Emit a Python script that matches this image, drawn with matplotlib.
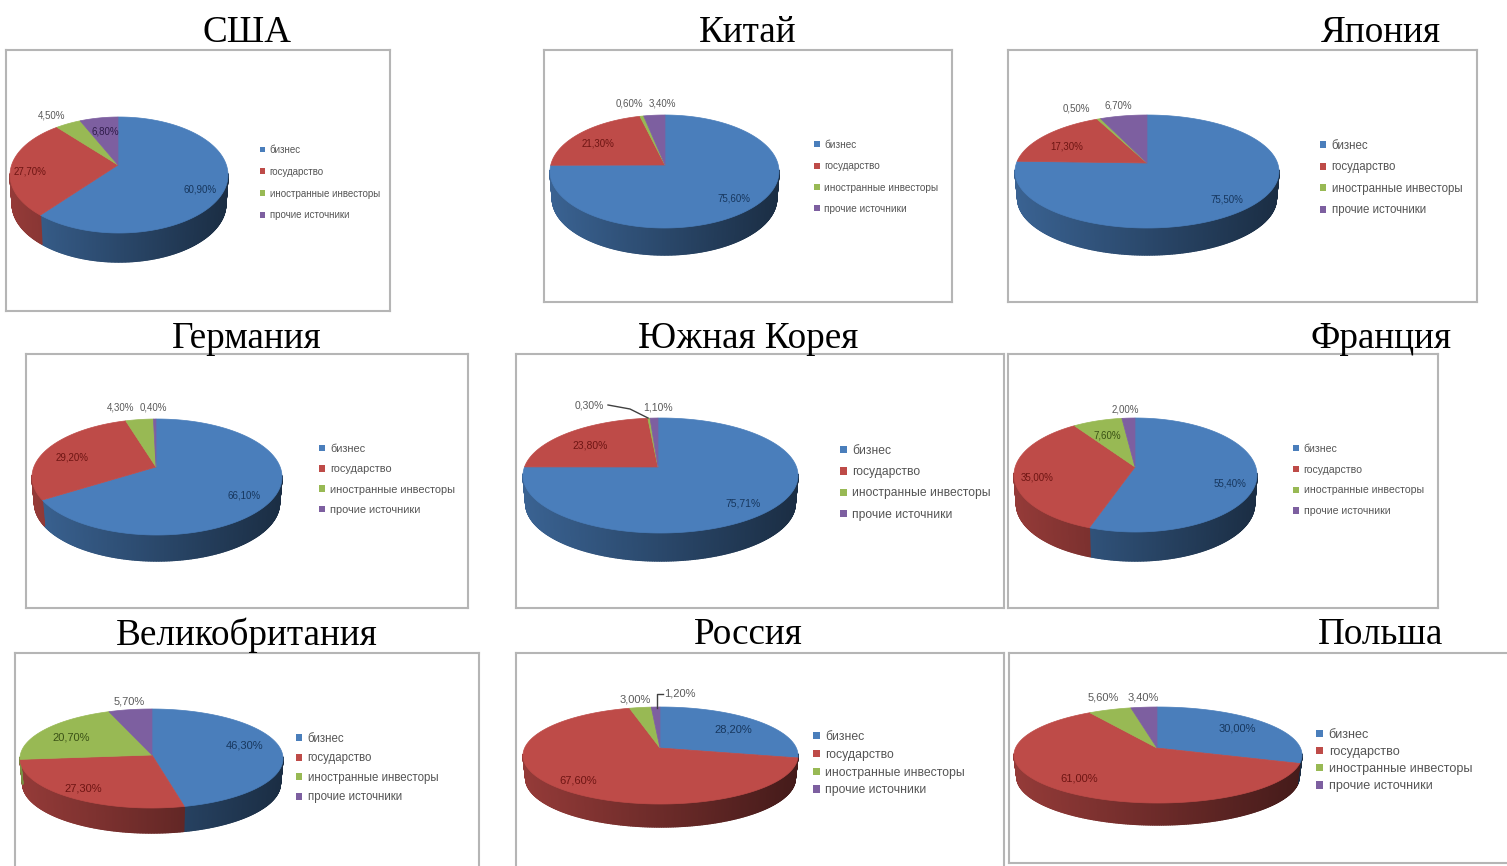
import numpy as np
import matplotlib
matplotlib.use('Agg')
import matplotlib.pyplot as plt
from matplotlib.collections import PolyCollection
from matplotlib.patches import Patch

W, H = 1507, 866

countries = ['США', 'Китай', 'Япония', 'Германия', 'Южная Корея', 'Франция',
             'Великобритания', 'Россия', 'Польша']
series = ['бизнес', 'государство', 'иностранные инвесторы', 'прочие источники']

business = [60.9, 75.6, 75.5, 66.1, 75.71, 55.4, 46.3, 28.2, 30.0]
government = [27.7, 21.3, 17.3, 29.2, 23.8, 35.0, 27.3, 67.6, 61.0]
foreign = [4.5, 0.6, 0.5, 4.3, 0.3, 7.6, 20.7, 3.0, 5.6]
other = [6.8, 3.4, 6.7, 0.4, 1.1, 2.0, 5.7, 1.2, 3.4]

colors = ['#4a7ebb', '#be4b48', '#98b954', '#7d5fa0']
text_dark = ['#17375e', '#6e1513', '#3b5216', '#2f1c4a']

# layout in picture pixels
# box, ellipse (left, right, top, face bottom, wall bottom), apex, title centre
layout = [
    dict(box=(6, 390, 50, 311), ell=(10, 228, 117, 233, 262), apex=(118, 165), title=(247, 30),
         leg=(260, 145, 21.5), fs=7.0, ls=7,
         lab=[(200, 190), (30, 171), (52, 116), (105, 131)], out=[2]),
    dict(box=(544, 952, 50, 302), ell=(550, 779, 115, 228, 255), apex=(665, 165), title=(748, 30),
         leg=(814, 140, 21.3), fs=7.2, ls=7,
         lab=[(734, 198), (598, 143), (629, 103), (662, 103)], out=[2, 3]),
    dict(box=(1008, 1477, 50, 302), ell=(1015, 1279, 115, 228, 255), apex=(1147, 163), title=(1381, 30),
         leg=(1320, 140, 21), fs=8.3, ls=7,
         lab=[(1227, 199), (1067, 146), (1076, 108), (1118, 105)], out=[2, 3]),
    dict(box=(26, 468, 354, 608), ell=(32, 282, 419, 535, 561), apex=(156, 467), title=(247, 336),
         leg=(319, 444, 21.3), fs=7.9, ls=7,
         lab=[(244, 496), (72, 457), (121, 407), (153, 407)], out=[2, 3]),
    dict(box=(516, 1004, 354, 608), ell=(523, 798, 418, 533, 561), apex=(658, 467), title=(748, 336),
         leg=(840, 445, 21.3), fs=8.7, ls=7.5,
         lab=[(743, 504), (590, 446), (589, 405), (658, 407)], out=[2, 3]),
    dict(box=(1008, 1438, 354, 608), ell=(1014, 1257, 418, 532, 561), apex=(1135, 467), title=(1381, 336),
         leg=(1293, 444, 21.3), fs=7.6, ls=7,
         lab=[(1230, 484), (1037, 478), (1107, 435), (1125, 409)], out=[3]),
    dict(box=(15, 479, 653, 880), ell=(20, 283, 709, 808, 833), apex=(152, 755), title=(247, 632),
         leg=(296, 733, 19), fs=8.3, ls=8,
         lab=[(245, 745), (83, 788), (71, 737), (129, 702)], out=[3]),
    dict(box=(516, 1004, 653, 880), ell=(523, 798, 707, 804, 827), apex=(660, 748), title=(748, 632),
         leg=(813, 731, 18), fs=8.8, ls=8,
         lab=[(733, 729), (578, 780), (635, 699), (680, 694)], out=[2, 3]),
    dict(box=(1009, 1520, 653, 863), ell=(1014, 1302, 707, 803, 825), apex=(1157, 748), title=(1381, 632),
         leg=(1316, 729, 17.7), fs=9.1, ls=8,
         lab=[(1237, 729), (1079, 779), (1103, 698), (1143, 698)], out=[2, 3]),
]

# leader lines as in the original charts (panel index, picture pixels)
leaders = {4: [(608, 405), (630, 409), (648, 418)],
           7: [(657, 708), (657, 694), (663, 694)]}


def shade(color, k):
    return tuple(np.array(matplotlib.colors.to_rgb(color)) * k)


def rim(t, lay):
    # the apex is drawn above the ellipse centre, so cast rays from it to the rim
    left, right, top, face, _ = lay['ell']
    cx, cy = (left + right) / 2, (top + face) / 2
    rx, ry = (right - left) / 2, (face - top) / 2
    px, py = (lay['apex'][0] - cx) / rx, (lay['apex'][1] - cy) / ry
    dx, dy = np.sin(t), -np.cos(t)
    b = px * dx + py * dy
    s = -b + np.sqrt(b ** 2 - (px ** 2 + py ** 2 - 1))
    return px + s * dx, py + s * dy


def draw_pie(ax, vals, lay):
    left, right, top, face, bottom = lay['ell']
    cx, cy = (left + right) / 2, (top + face) / 2
    rx, ry = (right - left) / 2, (face - top) / 2
    depth = bottom - face
    fr = np.cumsum([0] + list(vals)) / sum(vals) * 2 * np.pi

    # side wall first, only the front half of the cake shows
    quads, cols = [], []
    for i, col in enumerate(colors):
        t = np.linspace(fr[i], fr[i + 1], max(3, int((fr[i + 1] - fr[i]) * 90)))
        for a, b in zip(t[:-1], t[1:]):
            ua, va = rim(a, lay)
            ub, vb = rim(b, lay)
            if va < -0.02 and vb < -0.02:
                continue
            quads.append([(cx + rx * ua, cy + ry * va), (cx + rx * ub, cy + ry * vb),
                          (cx + rx * 0.98 * ub, cy + ry * vb + depth),
                          (cx + rx * 0.98 * ua, cy + ry * va + depth)])
            cols.append(shade(col, 0.78 - 0.42 * (ua + ub + 2) / 4))
    ax.add_collection(PolyCollection(quads, facecolors=cols, edgecolors=cols, linewidths=1.0, zorder=2))

    # top face
    for i, col in enumerate(colors):
        t = np.linspace(fr[i], fr[i + 1], max(3, int((fr[i + 1] - fr[i]) * 90)))
        u, v = rim(t, lay)
        xs = np.r_[lay['apex'][0], cx + rx * u]
        ys = np.r_[lay['apex'][1], cy + ry * v]
        ax.fill(xs, ys, color=col, lw=0.5, zorder=3)


fig = plt.figure(figsize=(W / 100, H / 100), dpi=100, facecolor='white')

for n, lay in enumerate(layout):
    x0, x1, y0, y1 = lay['box']
    ax = fig.add_axes([x0 / W, 1 - y1 / H, (x1 - x0) / W, (y1 - y0) / H])
    ax.set_xlim(x0, x1)
    ax.set_ylim(y1, y0)
    ax.set_xticks([])
    ax.set_yticks([])
    for s in ax.spines.values():
        s.set_color('#b5b5b5')
        s.set_linewidth(1.5)

    vals = [business[n], government[n], foreign[n], other[n]]
    draw_pie(ax, vals, lay)

    for i, v in enumerate(vals):
        txt = f'{v:.2f}%'.replace('.', ',')
        c = '#5a5a5a' if i in lay['out'] else text_dark[i]
        ax.text(lay['lab'][i][0], lay['lab'][i][1], txt, ha='center', va='center',
                fontsize=lay['ls'], family='Liberation Sans', color=c, zorder=5)

    if n in leaders:
        pts = np.array(leaders[n])
        ax.plot(pts[:, 0], pts[:, 1], color='#404040', lw=1, zorder=4)

    handles = [Patch(facecolor=c, edgecolor='none') for c in colors]
    spacing = (lay['leg'][2] - lay['fs'] / 0.72) / (lay['fs'] / 0.72)
    ax.legend(handles, series, loc='upper left', bbox_to_anchor=(lay['leg'][0], lay['leg'][1]),
              bbox_transform=ax.transData, frameon=False, borderpad=0, borderaxespad=0,
              handlelength=0.55, handleheight=0.55, handletextpad=0.45, labelspacing=spacing,
              labelcolor='#555555', prop={'family': 'Liberation Sans', 'size': lay['fs']})

    fig.text(lay['title'][0] / W, 1 - (lay['title'][1] + 3) / H, countries[n], ha='center', va='center',
             fontsize=26.7, family='Liberation Serif', color='black')

fig.savefig('out.png', dpi=100)
